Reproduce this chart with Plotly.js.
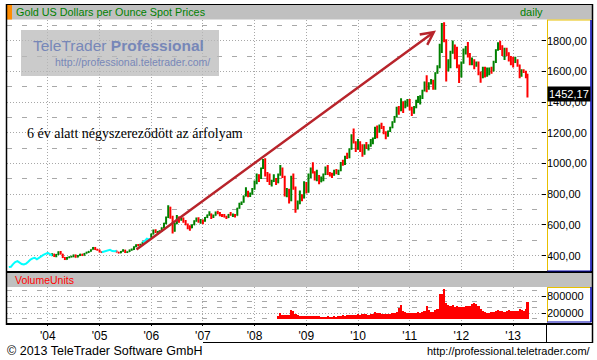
<!DOCTYPE html>
<html><head><meta charset="utf-8">
<script src="https://cdn.plot.ly/plotly-3.0.1.min.js"></script>
<style>html,body{margin:0;padding:0;background:#fff;}#chart{width:597px;height:360px;}</style>
</head><body><div id="chart"></div>
<script>
// ---- close-only (line) segments ----
const cyanDates = ['2003-04-01','2003-04-16','2003-05-01','2003-05-16','2003-06-01','2003-06-16','2003-07-01','2003-07-16','2003-08-01','2003-08-16','2003-09-01','2003-09-16','2003-10-01','2003-10-16','2003-11-01','2003-11-16','2003-12-01','2003-12-16','2004-01-01','2004-01-16','2004-02-01',
  '2004-06-01',
  '2005-01-16','2005-02-01','2005-02-16','2005-03-01','2005-03-16','2005-04-01','2005-04-16','2005-05-01',
  '2005-08-01',
  '2005-11-01','2005-11-16','2005-12-01','2005-12-16','2006-01-01'];
const cyanClose = [326,328,345,358,364,352,345,342,348,360,375,382,386,376,388,397,405,412,418,410,400,
  null,
  422,426,428,436,438,430,428,432,
  null,
  486,495,510,505,515];

// ---- OHLC bars ----
const ohlcDates = [
 '2004-02-01','2004-02-16','2004-03-01','2004-03-16','2004-04-01','2004-04-16','2004-05-01','2004-05-16','2004-06-01','2004-06-16','2004-07-01','2004-07-16','2004-08-01','2004-08-16','2004-09-01','2004-09-16','2004-10-01','2004-10-16','2004-11-01','2004-11-16','2004-12-01','2004-12-16','2005-01-01','2005-01-16',
 '2005-05-01','2005-05-16','2005-06-01','2005-06-16','2005-07-01','2005-07-16','2005-08-01','2005-08-16','2005-09-01','2005-09-16','2005-10-01','2005-10-16','2005-11-01',
 '2006-01-01','2006-01-16','2006-02-01','2006-02-16','2006-03-01','2006-03-16','2006-04-01','2006-04-16','2006-05-01','2006-05-16','2006-06-01','2006-06-16','2006-07-01','2006-07-16','2006-08-01','2006-08-16','2006-09-01','2006-09-16','2006-10-01','2006-10-16','2006-11-01','2006-11-16','2006-12-01','2006-12-16',
 '2007-01-01','2007-01-16','2007-02-01','2007-02-16','2007-03-01','2007-03-16','2007-04-01','2007-04-16','2007-05-01','2007-05-16','2007-06-01','2007-06-16','2007-07-01','2007-07-16','2007-08-01','2007-08-16','2007-09-01','2007-09-16','2007-10-01','2007-10-16','2007-11-01','2007-11-16','2007-12-01','2007-12-16',
 '2008-01-01','2008-01-16','2008-02-01','2008-02-16','2008-03-01','2008-03-16','2008-04-01','2008-04-16','2008-05-01','2008-05-16','2008-06-01','2008-06-16','2008-07-01','2008-07-16','2008-08-01','2008-08-16','2008-09-01','2008-09-16','2008-10-01','2008-10-16','2008-11-01','2008-11-16','2008-12-01','2008-12-16',
 '2009-01-01','2009-01-16','2009-02-01','2009-02-16','2009-03-01','2009-03-16','2009-04-01','2009-04-16','2009-05-01','2009-05-16','2009-06-01','2009-06-16','2009-07-01','2009-07-16','2009-08-01','2009-08-16','2009-09-01','2009-09-16','2009-10-01','2009-10-16','2009-11-01','2009-11-16','2009-12-01','2009-12-16',
 '2010-01-01','2010-01-16','2010-02-01','2010-02-16','2010-03-01','2010-03-16','2010-04-01','2010-04-16','2010-05-01','2010-05-16','2010-06-01','2010-06-16','2010-07-01','2010-07-16','2010-08-01','2010-08-16','2010-09-01','2010-09-16','2010-10-01','2010-10-16','2010-11-01','2010-11-16','2010-12-01','2010-12-16',
 '2011-01-01','2011-01-16','2011-02-01','2011-02-16','2011-03-01','2011-03-16','2011-04-01','2011-04-16','2011-05-01','2011-05-16','2011-06-01','2011-06-16','2011-07-01','2011-07-16','2011-08-01','2011-08-16','2011-09-01','2011-09-16','2011-10-01','2011-10-16','2011-11-01','2011-11-16','2011-12-01','2011-12-16',
 '2012-01-01','2012-01-16','2012-02-01','2012-02-16','2012-03-01','2012-03-16','2012-04-01','2012-04-16','2012-05-01','2012-05-16','2012-06-01','2012-06-16','2012-07-01','2012-07-16','2012-08-01','2012-08-16','2012-09-01','2012-09-16','2012-10-01','2012-10-16','2012-11-01','2012-11-16','2012-12-01','2012-12-16',
 '2013-01-01','2013-01-16','2013-02-01','2013-02-16','2013-03-01','2013-03-16','2013-04-01','2013-04-12'];
const ohlcOpen = [
 400,410,396,408,424,410,388,376,390,392,395,405,390,400,410,402,414,422,428,440,452,440,438,424,
 432,422,418,428,436,422,426,436,440,458,470,466,472,
 515,540,565,552,556,560,582,612,648,715,652,560,608,650,632,645,622,602,588,580,600,625,640,622,
 632,625,648,665,672,652,662,682,678,662,658,652,648,668,665,668,662,708,740,748,788,810,795,805,
 834,882,925,905,970,1010,930,912,868,885,888,875,928,960,912,795,830,760,880,840,720,740,790,775,
 870,815,925,965,945,915,920,880,905,928,975,935,930,925,955,940,955,1005,995,1045,1040,1095,1180,1140,
 1095,1140,1085,1060,1118,1105,1115,1150,1165,1230,1215,1245,1240,1200,1180,1210,1235,1270,1305,1360,1345,1400,1365,1395,
 1410,1360,1330,1365,1410,1420,1430,1475,1530,1490,1525,1530,1500,1590,1625,1770,1830,1800,1625,1655,1720,1770,1745,1640,
 1565,1655,1740,1760,1710,1660,1670,1640,1655,1585,1560,1620,1575,1590,1620,1605,1660,1740,1775,1765,1712,1730,1720,1695,
 1665,1660,1665,1640,1590,1605,1600,1580];
const ohlcHigh = [
 416,412,410,428,430,412,392,392,396,400,408,408,404,412,412,418,426,430,442,456,456,445,440,428,
 434,426,430,442,438,428,440,446,462,475,476,478,490,
 545,570,572,560,566,585,615,655,728,718,660,615,665,655,655,648,632,610,598,605,630,648,650,638,
 636,652,668,690,675,668,688,692,684,672,672,660,672,684,675,672,712,745,752,792,845,822,812,840,
 890,935,930,975,1030,1035,945,935,895,930,905,935,990,975,920,840,835,920,935,850,760,825,800,885,
 880,935,975,1008,950,960,925,915,935,980,990,945,940,960,965,960,1010,1025,1050,1070,1100,1190,1228,1145,
 1160,1145,1125,1125,1140,1125,1160,1170,1240,1248,1255,1265,1245,1210,1215,1240,1275,1310,1370,1375,1425,1405,1410,1420,
 1420,1370,1375,1415,1440,1445,1480,1535,1575,1530,1550,1545,1595,1640,1780,1915,1920,1810,1680,1735,1802,1775,1760,1645,
 1665,1750,1765,1792,1720,1690,1680,1665,1665,1600,1630,1630,1625,1625,1630,1670,1745,1790,1800,1770,1755,1755,1725,1700,
 1695,1695,1680,1645,1615,1615,1605,1585];
const ohlcLow = [
 398,392,390,405,408,385,372,374,383,388,390,386,388,398,398,400,412,418,426,438,436,432,420,418,
 420,414,416,426,418,418,424,432,436,455,462,464,468,
 512,538,548,540,550,556,580,605,645,640,545,555,605,615,628,615,598,572,562,578,598,620,615,608,
 605,620,645,660,638,645,660,670,656,652,648,638,646,660,652,648,660,705,730,745,785,780,782,796,
 830,865,880,900,965,915,880,860,850,880,860,872,920,905,785,780,740,755,830,680,700,735,755,772,
 805,810,905,935,890,885,865,878,885,925,925,915,905,920,930,925,950,985,990,1030,1035,1090,1130,1075,
 1090,1075,1045,1058,1095,1085,1110,1125,1160,1165,1200,1225,1190,1158,1175,1205,1230,1265,1300,1318,1340,1330,1360,1370,
 1345,1310,1325,1360,1395,1385,1420,1470,1465,1480,1515,1480,1480,1585,1620,1720,1790,1535,1600,1620,1715,1680,1620,1525,
 1560,1650,1710,1690,1640,1640,1615,1630,1575,1527,1555,1560,1565,1575,1585,1600,1655,1735,1740,1700,1675,1700,1665,1640,
 1625,1655,1630,1555,1565,1590,1555,1430];
const ohlcClose = [
 410,396,408,424,410,388,376,390,392,395,405,390,400,410,402,414,422,428,440,452,440,438,424,422,
 422,418,428,436,422,426,436,440,458,470,466,472,486,
 540,565,552,556,560,582,612,648,715,652,560,608,650,632,645,622,602,588,580,600,625,640,622,632,
 625,648,665,672,652,662,682,678,662,658,652,648,668,665,668,662,708,740,748,788,810,795,805,834,
 882,925,905,970,1010,930,912,868,885,888,875,928,960,912,795,830,760,880,840,720,740,790,775,870,
 815,925,965,945,915,920,880,905,928,975,935,930,925,955,940,955,1005,995,1045,1040,1095,1180,1140,1095,
 1140,1085,1060,1118,1105,1115,1150,1165,1230,1215,1245,1240,1200,1180,1210,1235,1270,1305,1360,1345,1400,1365,1395,1410,
 1360,1330,1365,1410,1420,1430,1475,1530,1490,1525,1530,1500,1590,1625,1770,1830,1800,1625,1655,1720,1770,1745,1640,1565,
 1655,1740,1760,1710,1660,1670,1640,1655,1585,1560,1620,1575,1590,1620,1605,1660,1740,1775,1765,1712,1730,1720,1695,1665,
 1660,1665,1640,1590,1605,1600,1580,1452.17];

// ---- volume ----
const volDates = [
 '2008-06-16','2008-07-01','2008-07-16','2008-08-01','2008-08-16','2008-09-01','2008-09-16','2008-10-01','2008-10-16','2008-11-01','2008-11-16','2008-12-01','2008-12-16',
 '2009-01-01','2009-01-16','2009-02-01','2009-02-16','2009-03-01','2009-03-16','2009-04-01','2009-04-16','2009-05-01','2009-05-16','2009-06-01','2009-06-16','2009-07-01','2009-07-16','2009-08-01','2009-08-16','2009-09-01','2009-09-16','2009-10-01','2009-10-16','2009-11-01','2009-11-16','2009-12-01','2009-12-16',
 '2010-01-01','2010-01-16','2010-02-01','2010-02-16','2010-03-01','2010-03-16','2010-04-01','2010-04-16','2010-05-01','2010-05-16','2010-06-01','2010-06-16','2010-07-01','2010-07-16','2010-08-01','2010-08-16','2010-09-01','2010-09-16','2010-10-01','2010-10-16','2010-11-01','2010-11-16','2010-12-01','2010-12-16',
 '2011-01-01','2011-01-16','2011-02-01','2011-02-16','2011-03-01','2011-03-16','2011-04-01','2011-04-16','2011-05-01','2011-05-16','2011-06-01','2011-06-16','2011-07-01','2011-07-16','2011-08-01','2011-08-16','2011-09-01','2011-09-16','2011-10-01','2011-10-16','2011-11-01','2011-11-16','2011-12-01','2011-12-16',
 '2012-01-01','2012-01-16','2012-02-01','2012-02-16','2012-03-01','2012-03-16','2012-04-01','2012-04-16','2012-05-01','2012-05-16','2012-06-01','2012-06-16','2012-07-01','2012-07-16','2012-08-01','2012-08-16','2012-09-01','2012-09-16','2012-10-01','2012-10-16','2012-11-01','2012-11-16','2012-12-01','2012-12-16',
 '2013-01-01','2013-01-16','2013-02-01','2013-02-16','2013-03-01','2013-03-16','2013-04-01','2013-04-12'];
const volValues = [
 100000,200000,130000,120000,150000,140000,320000,280000,180000,130000,110000,115000,100000,
 95000,90000,110000,105000,100000,95000,85000,80000,75000,80000,90000,70000,75000,85000,80000,90000,110000,120000,115000,125000,130000,140000,150000,120000,
 160000,150000,170000,155000,160000,150000,165000,175000,230000,200000,210000,180000,170000,160000,175000,185000,200000,210000,250000,380000,480000,280000,240000,210000,
 220000,200000,190000,200000,230000,210000,240000,260000,460000,300000,250000,240000,300000,330000,890000,880000,1050000,560000,480000,440000,500000,430000,450000,420000,
 420000,400000,470000,450000,460000,520000,560000,540000,460000,340000,280000,240000,210000,200000,230000,250000,260000,300000,280000,260000,250000,270000,300000,270000,
 290000,260000,280000,340000,300000,290000,340000,610000];

// ---- texts ----
const chartTitle = 'Gold US Dollars per Ounce Spot Prices';
const periodLabel = 'daily';
const volumeTitle = 'VolumeUnits';
const noteText = '6 év alatt négyszereződött az árfolyam';
const footerLeft = '© 2013 TeleTrader Software GmbH';
const footerRight = 'http://professional.teletrader.com/';

// ---- geometry helpers (pixel -> paper) ----
const W = 597, H = 360;
const X = p => p / W, Y = p => 1 - p / H;
const gridCol = '#a8a8a8';
const dotted = '1px,2px', dashed = '5px,10px';
const priceRange = [300, 1935];
const volRange = [-110000, 1120000];
const xDomain = [X(7), X(546)];

const lastClose = ohlcClose[ohlcClose.length - 1];
const lastLabel = lastClose.toFixed(2).replace('.', ',');

const traces = [
  {type:'scatter', mode:'lines', x:cyanDates, y:cyanClose, connectgaps:false,
   line:{color:'#00ffff', width:2}, xaxis:'x', yaxis:'y', hoverinfo:'skip'},
  {type:'ohlc', x:ohlcDates, open:ohlcOpen, high:ohlcHigh, low:ohlcLow, close:ohlcClose,
   increasing:{line:{color:'#008000', width:2}}, decreasing:{line:{color:'#ff0000', width:2}},
   tickwidth:0.15, xaxis:'x', yaxis:'y'},
  {type:'bar', x:volDates, y:volValues, xaxis:'x2', yaxis:'y2', width:1.35e9,
   marker:{color:'#ff0000', line:{width:0}}}
];

function hline(y, x0, x1, color, w) {
  return {type:'line', xref:'paper', yref:'paper', x0:X(x0), x1:X(x1), y0:Y(y), y1:Y(y), line:{color:color, width:w}, layer:'above'};
}
function vline(x, y0, y1, color, w) {
  return {type:'line', xref:'paper', yref:'paper', x0:X(x), x1:X(x), y0:Y(y0), y1:Y(y1), line:{color:color, width:w}, layer:'above'};
}
function rect(x0, y0, x1, y1, fill) {
  return {type:'rect', xref:'paper', yref:'paper', x0:X(x0), x1:X(x1), y0:Y(y1), y1:Y(y0), fillcolor:fill, line:{width:0}, layer:'above'};
}

const shapes = [
  rect(6, 4.5, 592, 19.5, '#c0c0c0'),
  rect(7, 5, 12, 19.5, '#ff8c00'),
  hline(4.5, 6, 593, '#000', 1),
  rect(6, 273, 592, 287, '#c0c0c0'),
  hline(272, 6, 593, '#000', 2),
  hline(324, 6, 593, '#000', 2),
  vline(6.5, 4, 325, '#000', 1.5),
  vline(592.5, 4, 343, '#000', 1.5),
  hline(342.5, 203, 593, '#000', 1),
  vline(546.5, 324, 343, '#000', 1),
  // price axis panel borders
  vline(547.5, 20, 271, '#e8c000', 1),
  hline(20, 547, 591, '#e8c000', 1),
  vline(591, 20, 271, '#0000b0', 1.5),
  hline(271, 547, 591, '#0000b0', 1),
  // volume axis panel borders
  vline(547.5, 287, 322, '#e8c000', 1),
  hline(287.5, 547, 591, '#e8c000', 1),
  vline(591, 287, 322, '#0000b0', 1.5),
  hline(322, 547, 591, '#0000b0', 1),
  // watermark box
  rect(21, 30, 219, 76, 'rgba(185,185,185,0.75)')
];

const sans = 'Liberation Sans, Arial, sans-serif';
const annotations = [
  {xref:'paper', yref:'paper', x:X(14), y:Y(12), xanchor:'left', yanchor:'middle', showarrow:false,
   text:chartTitle, font:{family:sans, size:10.8, color:'#008000'}},
  {xref:'paper', yref:'paper', x:X(545), y:Y(12), xanchor:'right', yanchor:'middle', showarrow:false,
   text:periodLabel, font:{family:sans, size:11, color:'#008000'}},
  {xref:'paper', yref:'paper', x:X(13), y:Y(280), xanchor:'left', yanchor:'middle', showarrow:false,
   text:volumeTitle, font:{family:sans, size:10.5, color:'#ff0000'}},
  {xref:'paper', yref:'paper', x:X(31), y:Y(45), xanchor:'left', yanchor:'middle', showarrow:false,
   text:'TeleTrader <b>Professional</b>', font:{family:sans, size:15.5, color:'#7787b8'}},
  {xref:'paper', yref:'paper', x:X(53), y:Y(62), xanchor:'left', yanchor:'middle', showarrow:false,
   text:'http://professional.teletrader.com/', font:{family:sans, size:10.5, color:'#7787b8'}},
  {xref:'paper', yref:'paper', x:X(25), y:Y(133), xanchor:'left', yanchor:'middle', showarrow:false,
   text:noteText, font:{family:'Liberation Serif, Times New Roman, serif', size:14, color:'#000'}},
  {xref:'paper', yref:'paper', x:X(436), y:Y(30.5), ax:-301, ay:220, text:'', showarrow:true,
   arrowhead:5, arrowsize:1, arrowwidth:2.5, arrowcolor:'#b8242b', standoff:0},
  {xref:'paper', yref:'y', x:X(568.5), y:lastClose, xanchor:'center', yanchor:'middle', showarrow:false,
   text:lastLabel, bgcolor:'#000', borderpad:1, font:{family:sans, size:11, color:'#fff'}},
  {xref:'paper', yref:'paper', x:X(5), y:Y(351), xanchor:'left', yanchor:'middle', showarrow:false,
   text:footerLeft, font:{family:sans, size:12.5, color:'#000'}},
  {xref:'paper', yref:'paper', x:X(593), y:Y(351), xanchor:'right', yanchor:'middle', showarrow:false,
   text:footerRight, font:{family:sans, size:11, color:'#000'}}
];

const layout = {
  width:W, height:H, margin:{l:0, r:0, t:0, b:0},
  paper_bgcolor:'#fff', plot_bgcolor:'#fff', showlegend:false, separators:', ',
  font:{family:sans, size:11, color:'#000'},
  xaxis:{type:'date', domain:xDomain, range:['2003-03-19','2013-08-21'], anchor:'y',
    showticklabels:false, ticks:'', dtick:'M12', tick0:'2004-01-01',
    showgrid:true, gridcolor:gridCol, griddash:dotted, zeroline:false, showline:false,
    rangeslider:{visible:false}, fixedrange:true},
  xaxis2:{type:'date', domain:xDomain, matches:'x', anchor:'y2',
    dtick:'M12', tick0:'2004-01-01', tickformat:"'%y", ticks:'outside', ticklen:3, tickcolor:'#000',
    showgrid:true, gridcolor:gridCol, griddash:dotted, zeroline:false, showline:false,
    tickfont:{family:sans, size:12, color:'#000'}, rangeslider:{visible:false}},
  yaxis:{domain:[Y(271), Y(20)], range:priceRange, side:'right', anchor:'x',
    dtick:200, tick0:0, tickformat:'.2f', ticks:'inside', ticklen:4, tickcolor:'#000',
    showgrid:true, gridcolor:gridCol, griddash:dotted, zeroline:false, showline:false,
    tickfont:{family:sans, size:11, color:'#000'},
    minor:{dtick:100, tick0:0, showgrid:true, gridcolor:gridCol, griddash:dashed, ticks:''}},
  yaxis3:{overlaying:'y', anchor:'x', side:'right', range:priceRange, dtick:20, tick0:0,
    ticks:'inside', ticklen:2, tickcolor:'#000', showticklabels:false, showgrid:false, zeroline:false, showline:false},
  yaxis4:{overlaying:'y', anchor:'x', side:'left', range:priceRange, dtick:100/3, tick0:0,
    ticks:'inside', ticklen:3, tickcolor:'#000', showticklabels:false, showgrid:false, zeroline:false, showline:false},
  yaxis2:{domain:[Y(322), Y(287)], range:volRange, side:'right', anchor:'x2',
    dtick:600000, tick0:200000, tickformat:'d', ticks:'inside', ticklen:4, tickcolor:'#000',
    showgrid:true, gridcolor:gridCol, griddash:dotted, zeroline:false, showline:false,
    tickfont:{family:sans, size:11, color:'#000'},
    minor:{dtick:200000, tick0:0, showgrid:true, gridcolor:gridCol, griddash:dashed, ticks:''}},
  yaxis5:{overlaying:'y2', anchor:'x2', side:'right', range:volRange, dtick:100000, tick0:0,
    ticks:'inside', ticklen:2, tickcolor:'#000', showticklabels:false, showgrid:false, zeroline:false, showline:false},
  yaxis6:{overlaying:'y2', anchor:'x2', side:'left', range:volRange, dtick:200000, tick0:0,
    ticks:'inside', ticklen:3, tickcolor:'#000', showticklabels:false, showgrid:false, zeroline:false, showline:false},
  shapes:shapes,
  annotations:annotations,
  bargap:0
};

Plotly.newPlot('chart', traces, layout, {staticPlot:true, displayModeBar:false});
</script></body></html>
